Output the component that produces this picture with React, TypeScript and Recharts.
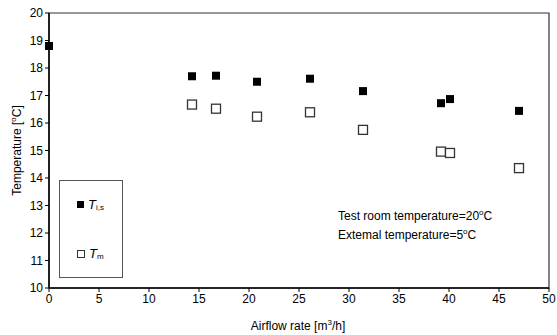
import { ScatterChart, Scatter, XAxis, YAxis, ReferenceArea, Legend } from "recharts";

const airflow = [0, 14.3, 16.7, 20.8, 26.1, 31.4, 39.2, 40.1, 47.0];
const tis = [18.8, 17.7, 17.72, 17.5, 17.61, 17.16, 16.72, 16.87, 16.44];
const tmAirflow = [14.3, 16.7, 20.8, 26.1, 31.4, 39.2, 40.1, 47.0];
const tm = [16.67, 16.52, 16.23, 16.39, 15.75, 14.96, 14.91, 14.36];
const xTicks = [0, 5, 10, 15, 20, 25, 30, 35, 40, 45, 50];
const yTicks = [10, 11, 12, 13, 14, 15, 16, 17, 18, 19, 20];

const tisData = airflow.map((x, i) => ({ x, y: tis[i] }));
const tmData = tmAirflow.map((x, i) => ({ x, y: tm[i] }));

const FONT = "'Liberation Sans', Arial, sans-serif";

const FilledSquare = (props: any) => {
  const { cx, cy } = props;
  return <rect x={cx - 4} y={cy - 4} width={8} height={8} fill="#000" />;
};

const OpenSquare = (props: any) => {
  const { cx, cy } = props;
  return (
    <rect x={cx - 4.5} y={cy - 4.5} width={9} height={9} fill="#fff" stroke="#333" strokeWidth={1.3} />
  );
};

// axis titles with a real superscript
const XTitle = (props: any) => {
  const vb = props.viewBox || { x: 49, y: 288, width: 500, height: 47 };
  const cx = vb.x + vb.width / 2 - 1;
  const y = vb.y + 42;
  return (
    <text x={cx} y={y} textAnchor="middle" fontFamily={FONT} fontSize={12} fill="#000">
      Airflow rate [m<tspan dy={-5} fontSize={8}>3</tspan>
      <tspan dy={5}>/h]</tspan>
    </text>
  );
};

const YTitle = (props: any) => {
  const vb = props.viewBox || { x: 0, y: 13, width: 49, height: 275 };
  const bx = vb.x + 21;
  const cy = vb.y + vb.height / 2;
  return (
    <text
      x={bx}
      y={cy}
      transform={`rotate(-90 ${bx} ${cy})`}
      textAnchor="middle"
      fontFamily={FONT}
      fontSize={12}
      fill="#000"
    >
      Temperature [<tspan dy={-5} fontSize={8}>o</tspan>
      <tspan dy={5}>C]</tspan>
    </text>
  );
};

const LegendBox = () => (
  <div
    style={{
      width: 64,
      height: 98,
      border: "1px solid #555",
      boxSizing: "border-box",
      background: "#fff",
      fontFamily: FONT,
      position: "relative",
    }}
  >
    <div style={{ position: "absolute", left: 17, top: 16, display: "flex", alignItems: "center" }}>
      <span style={{ display: "inline-block", width: 7, height: 7, background: "#000", marginRight: 4 }} />
      <span style={{ fontStyle: "italic", fontSize: 13 }}>T</span>
      <span style={{ fontSize: 8, marginTop: 6 }}>i,s</span>
    </div>
    <div style={{ position: "absolute", left: 17, top: 65, display: "flex", alignItems: "center" }}>
      <span
        style={{ display: "inline-block", width: 6, height: 6, border: "1px solid #333", marginRight: 4 }}
      />
      <span style={{ fontStyle: "italic", fontSize: 13 }}>T</span>
      <span style={{ fontSize: 8, marginTop: 6 }}>m</span>
    </div>
  </div>
);

export default function App() {
  return (
    <div style={{ position: "absolute", left: 0, top: 0, width: 557, height: 335, background: "#fff" }}>
      <ScatterChart width={557} height={335} margin={{ top: 13, right: 8, bottom: 0, left: 0 }}>
        <XAxis
          type="number"
          dataKey="x"
          domain={[0, 50]}
          ticks={xTicks}
          interval={0}
          height={47}
          axisLine={{ stroke: "#000", strokeWidth: 1.5 }}
          tickLine={{ stroke: "#000" }}
          tickSize={4}
          tick={{ fill: "#000", fontSize: 12, fontFamily: FONT }}
          label={<XTitle />}
        />
        <YAxis
          type="number"
          dataKey="y"
          domain={[10, 20]}
          ticks={yTicks}
          interval={0}
          width={49}
          axisLine={{ stroke: "#000", strokeWidth: 1.5 }}
          tickLine={{ stroke: "#000" }}
          tickSize={4}
          tick={{ fill: "#000", fontSize: 12, fontFamily: FONT }}
          label={<YTitle />}
        />
        <ReferenceArea x1={0} x2={50} y1={10} y2={20} fill="none" stroke="#333" strokeWidth={1.2} ifOverflow="visible" />
        <Legend
          layout="vertical"
          align="center"
          verticalAlign="middle"
          content={() => <LegendBox />}
          wrapperStyle={{ position: "absolute", left: 59, top: 180, width: 64, height: 98 }}
        />
        <Scatter name="Ti,s" data={tisData} shape={FilledSquare} isAnimationActive={false} />
        <Scatter name="Tm" data={tmData} shape={OpenSquare} isAnimationActive={false} />
      </ScatterChart>
      <div
        style={{
          position: "absolute",
          left: 338,
          top: 205,
          fontFamily: FONT,
          fontSize: 12,
          lineHeight: "16px",
          color: "#000",
          whiteSpace: "nowrap",
        }}
      >
        <div>
          Test room temperature=20<sup style={{ fontSize: 8 }}>o</sup>C
        </div>
        <div>
          Extemal temperature=5<sup style={{ fontSize: 8 }}>o</sup>C
        </div>
      </div>
    </div>
  );
}
